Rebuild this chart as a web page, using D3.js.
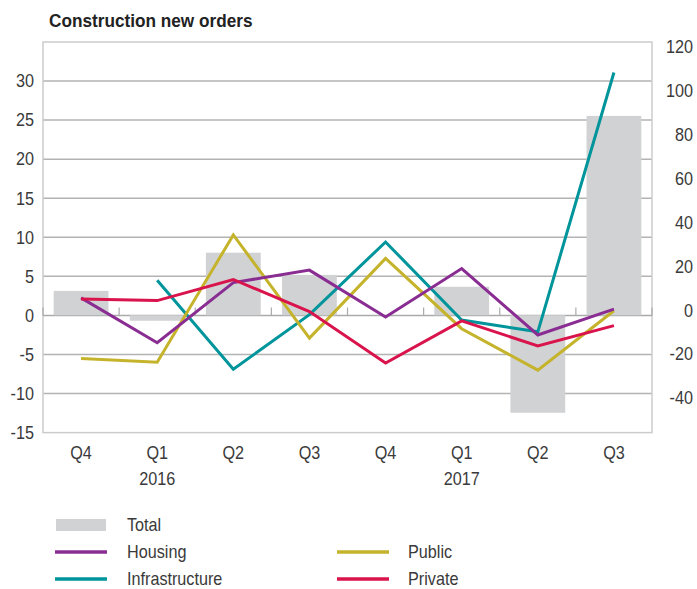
<!DOCTYPE html>
<html><head><meta charset="utf-8">
<script src="https://cdn.jsdelivr.net/npm/d3@7"></script>
<style>
body{margin:0;background:#fff;}
text{font-family:"Liberation Sans",Arial,sans-serif;fill:#3a3a3a;}
</style></head><body>
<svg id="c" width="697" height="589"></svg>
<script>
const categories = ["2015Q4","2016Q1","2016Q2","2016Q3","2016Q4","2017Q1","2017Q2","2017Q3"];
const quarterLabels = ["Q4","Q1","Q2","Q3","Q4","Q1","Q2","Q3"];
const yearLabels = ["","2016","","","","2017","",""];
const leftTicks = [-15,-10,-5,0,5,10,15,20,25,30];
const rightTicks = [-40,-20,0,20,40,60,80,100,120];
const total = [11.1, -2.5, 28.5, 18.4, 0, 13.0, -44.4, 90.8];
const housing = [2.25, -3.5, 4.2, 5.8, -0.2, 6.0, -2.5, 0.8];
const infrastructure = [null, 4.5, -6.9, 0.1, 9.4, -0.6, -2.1, 31.1];
const publicS = [-5.5, -6.0, 10.3, -2.9, 7.3, -1.7, -7.0, 0.6];
const privateS = [2.1, 1.9, 4.6, 0.5, -6.1, -0.7, -3.9, -1.3];

const svg = d3.select("#c");
const L = 43, R = 652, T = 42, B = 432.6;
const SX = 0.9, FS = 18;
const x = d3.scaleBand().domain(categories).range([L, R]).paddingInner(0.28).paddingOuter(0.14);
const xs = d3.scaleBand().domain(categories).range([L, R]).padding(0);
const yL = d3.scaleLinear().domain([-15, 35]).range([B, T]);
const yR = d3.scaleLinear().domain([-40, 120]).range([403.1, 51.8]);
const cx = c => xs(c) + xs.bandwidth()/2;
const tr = (px, py) => `translate(${px},${py}) scale(${SX},1)`;

svg.append("text").attr("transform", "translate(49,26.5) scale(0.93,1)").attr("font-size", 18.5)
  .attr("font-weight", "bold").style("fill", "#222").text("Construction new orders");

// gridlines
svg.append("g").selectAll("line").data(leftTicks.filter(d => d !== 0 && d !== -15)).join("line")
  .attr("x1", L).attr("x2", R).attr("y1", d => yL(d)).attr("y2", d => yL(d))
  .attr("stroke", "#b3b3b3").attr("stroke-width", 1.5);
// frame
svg.append("rect").attr("x", L).attr("y", T).attr("width", R - L).attr("height", B - T)
  .attr("fill", "none").attr("stroke", "#cccccc").attr("stroke-width", 1.5);
// zero axis with upward ticks
svg.append("line").attr("x1", L).attr("x2", R).attr("y1", yL(0)).attr("y2", yL(0))
  .attr("stroke", "#aaaaaa").attr("stroke-width", 1.5);
const bounds = categories.map(c => xs(c)).concat([xs(categories[categories.length-1]) + xs.bandwidth()]);
svg.append("g").selectAll("line").data(bounds).join("line")
  .attr("x1", d => d).attr("x2", d => d).attr("y1", yL(0)).attr("y2", yL(0) - 8)
  .attr("stroke", "#aaaaaa").attr("stroke-width", 1.2);

// bars
svg.append("g").selectAll("rect").data(categories).join("rect")
  .attr("x", c => x(c)).attr("width", x.bandwidth())
  .attr("y", (c, i) => Math.min(yR(0), yR(total[i])))
  .attr("height", (c, i) => Math.abs(yR(total[i]) - yR(0)))
  .attr("fill", "#d1d2d4");

// lines
const series = [
  {name: "Infrastructure", vals: infrastructure, color: "#00949b"},
  {name: "Public", vals: publicS, color: "#c4b32b"},
  {name: "Housing", vals: housing, color: "#8a2d92"},
  {name: "Private", vals: privateS, color: "#d9134b"}
];
const line = d3.line().defined(d => d.v !== null).x(d => cx(d.c)).y(d => yL(d.v));
series.forEach(s => {
  svg.append("path").datum(categories.map((c, i) => ({c, v: s.vals[i]})))
    .attr("d", line).attr("fill", "none").attr("stroke", s.color).attr("stroke-width", 3)
    .attr("stroke-linejoin", "miter");
});

// left axis labels
svg.append("g").selectAll("text").data(leftTicks).join("text")
  .attr("transform", d => tr(34, yL(d))).attr("dy", "0.35em").attr("text-anchor", "end")
  .attr("font-size", FS).text(d => d);
// right axis labels
svg.append("g").selectAll("text").data(rightTicks).join("text")
  .attr("transform", d => tr(693, yR(d) - 5)).attr("dy", "0.35em").attr("text-anchor", "end")
  .attr("font-size", FS).text(d => d);
// x labels
svg.append("g").selectAll("text").data(categories).join("text")
  .attr("transform", c => tr(cx(c), 458.5)).attr("text-anchor", "middle")
  .attr("font-size", FS).text((c, i) => quarterLabels[i]);
svg.append("g").selectAll("text").data(categories).join("text")
  .attr("transform", c => tr(cx(c), 484.5)).attr("text-anchor", "middle")
  .attr("font-size", FS).text((c, i) => yearLabels[i]);

// legend
const lg = svg.append("g");
lg.append("rect").attr("x", 56).attr("y", 519).attr("width", 50).attr("height", 12).attr("fill", "#d1d2d4");
lg.append("text").attr("transform", tr(127, 525)).attr("dy", "0.35em").attr("font-size", FS).text("Total");
const legItems = [
  {name: "Housing", color: "#8a2d92", x: 55, y: 552, tx: 127},
  {name: "Infrastructure", color: "#00949b", x: 55, y: 579, tx: 127},
  {name: "Public", color: "#c4b32b", x: 337, y: 552, tx: 408},
  {name: "Private", color: "#d9134b", x: 337, y: 579, tx: 408}
];
legItems.forEach(d => {
  lg.append("line").attr("x1", d.x).attr("x2", d.x + 52).attr("y1", d.y).attr("y2", d.y)
    .attr("stroke", d.color).attr("stroke-width", 3.5);
  lg.append("text").attr("transform", tr(d.tx, d.y)).attr("dy", "0.35em")
    .attr("font-size", FS).text(d.name);
});
</script></body></html>
